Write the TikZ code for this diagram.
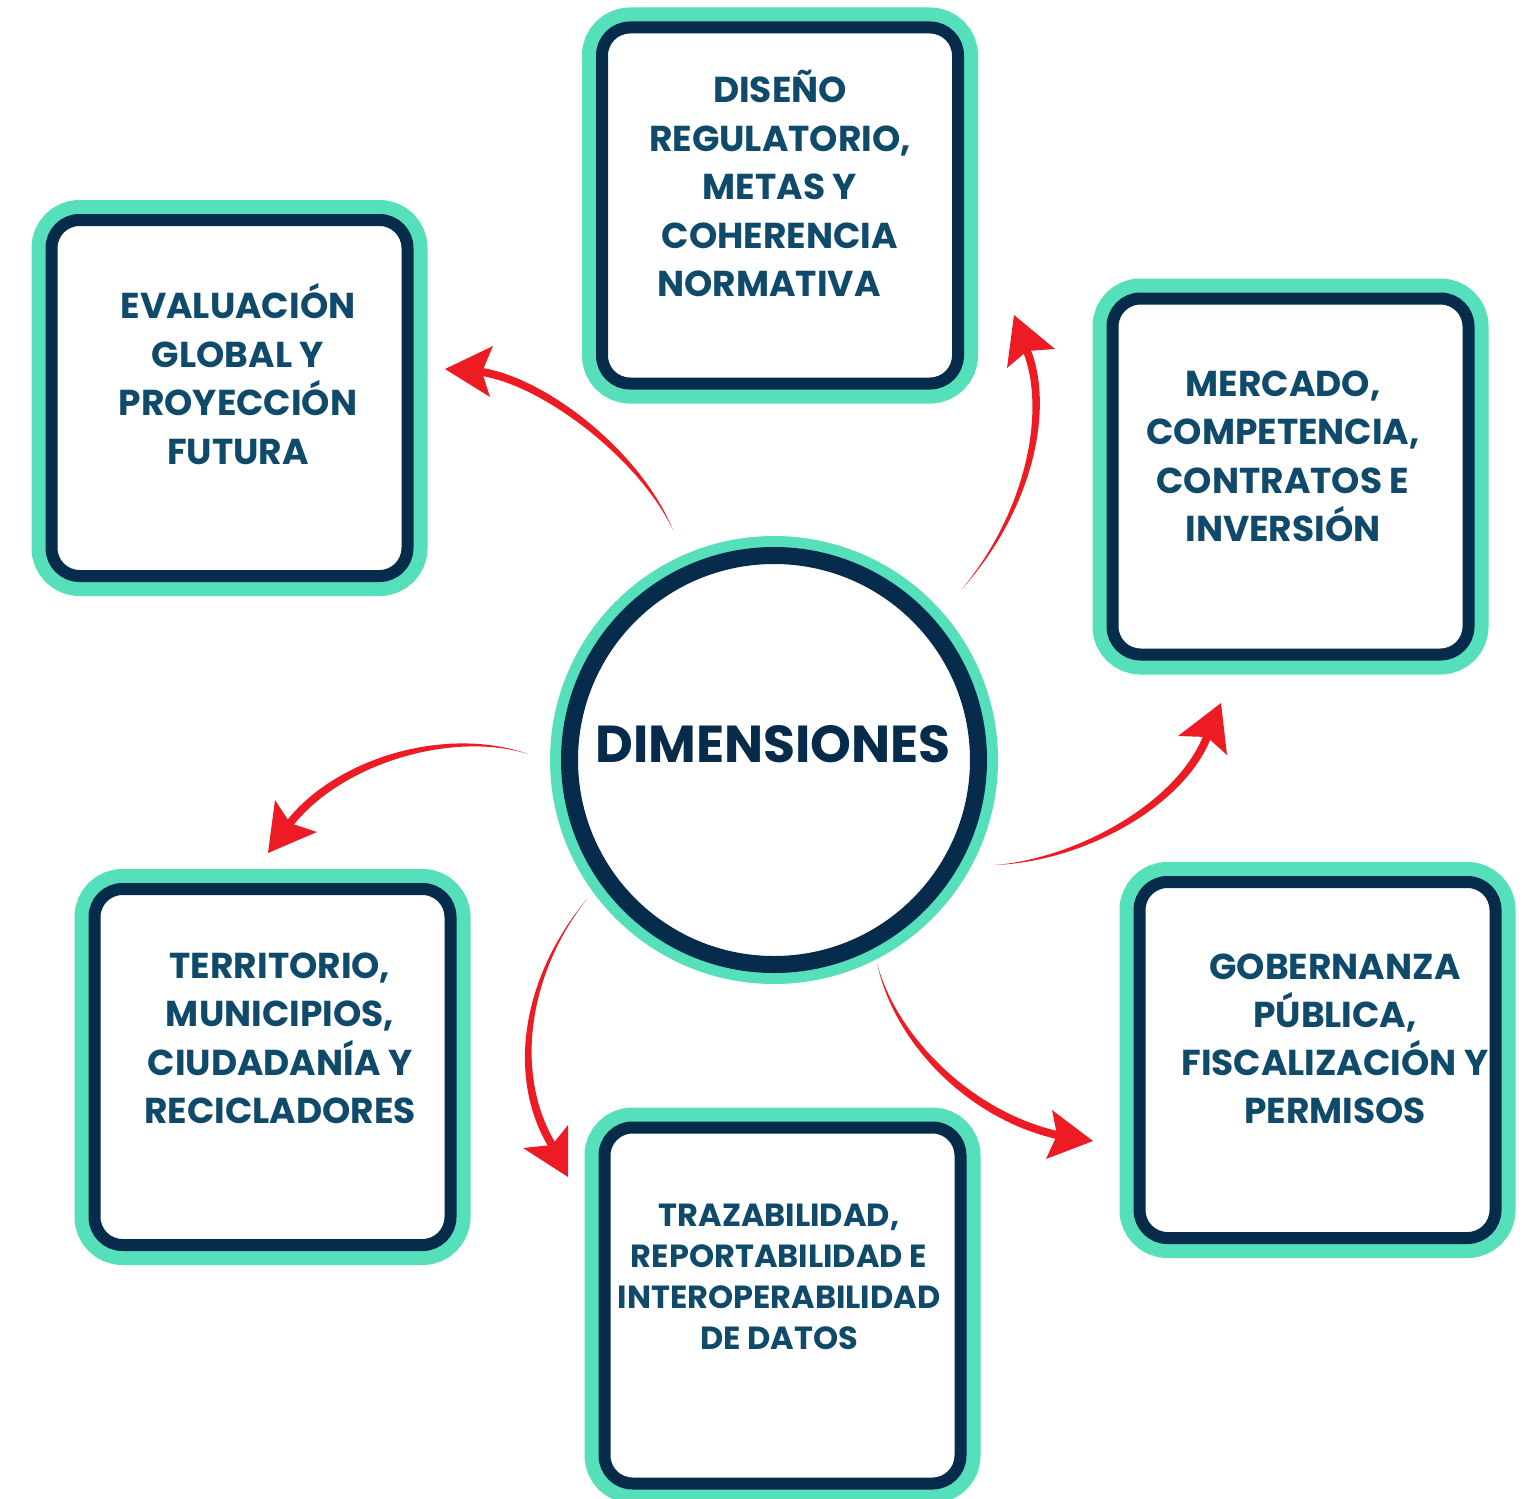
\documentclass[tikz,border=0pt]{standalone}
\usepackage{fontspec}
\setmainfont{Poppins}
\usetikzlibrary{calc}
\definecolor{tealc}{HTML}{55DFBB}
\definecolor{navyc}{HTML}{062B4B}
\definecolor{txtc}{HTML}{0F4A6B}
\definecolor{redc}{HTML}{ED1C24}
\tikzset{
  dimbox/.style={rectangle, minimum width=356pt, minimum height=356pt, inner sep=0pt,
    rounded corners=28pt, fill=white, draw=navyc, line width=12pt,
    preaction={draw=tealc, line width=40pt, rounded corners=28pt}},
  hub/.style={circle, minimum size=409pt, inner sep=0pt, fill=white, draw=navyc, line width=17pt,
    preaction={draw=tealc, line width=39pt}},
  boxtxt/.style={text=txtc, font=\fontsize{36}{42}\selectfont\bfseries, inner sep=0pt},
  smalltxt/.style={text=txtc, font=\fontsize{32}{36}\selectfont\bfseries, inner sep=0pt},
  hubtxt/.style={text=navyc, font=\fontsize{52}{60}\selectfont\bfseries, inner sep=0pt},
  arrowfill/.style={fill=redc, draw=none}
}
% lines of text: #1 style, #2 name, #3 x, #4 first baseline y, #5 step, #6 list
\newcommand\txtlines[6]{%
  \foreach \t [count=\i from 0] in {#6} {
    \node[#1, anchor=base] (#2-\i) at ({#3}, {#4+\i*#5}) {\t};
  }}
% tapered arrow: #1 name, #2 start, #3 c1, #4 c2, #5 notch, #6 tip, #7 barb1, #8 barb2
\newcommand\taparrow[8]{%
  \coordinate (#1-s) at #2;
  \coordinate (#1-c1) at #3;
  \coordinate (#1-c2) at #4;
  \coordinate (#1-n) at #5;
  \coordinate (#1-t) at #6;
  \coordinate (#1-b1) at #7;
  \coordinate (#1-b2) at #8;
  \coordinate (#1-na) at ($(#1-n)!4pt!90:(#1-c2)$);
  \coordinate (#1-nb) at ($(#1-n)!4pt!-90:(#1-c2)$);
  \coordinate (#1-va) at ($(#1-na)-(#1-n)$);
  \coordinate (#1-vb) at ($(#1-nb)-(#1-n)$);
  \coordinate (#1-ca) at ($(#1-c2)+(#1-va)$);
  \coordinate (#1-cb) at ($(#1-c2)+(#1-vb)$);
  \coordinate (#1-da) at ($(#1-c1)+1.1*(#1-va)$);
  \coordinate (#1-db) at ($(#1-c1)+1.1*(#1-vb)$);
  \fill[arrowfill] (#1-s) .. controls (#1-da) and (#1-ca) .. (#1-na)
     -- (#1-nb) .. controls (#1-cb) and (#1-db) .. (#1-s) -- cycle;
  \fill[arrowfill] (#1-t) -- (#1-b1) -- (#1-n) -- (#1-b2) -- cycle;
}
\begin{document}
\begin{tikzpicture}[x=1pt,y=-1pt]
\useasboundingbox (0,0) rectangle (1530,1498);
\fill[white] (0,0) rectangle (1530,1498);

% boxes
\node[dimbox] (box1) at (780,205.5) {};
\node[dimbox] (box2) at (229.5,398) {};
\node[dimbox] (box3) at (1290.5,476.5) {};
\node[dimbox] (box4) at (272.5,1067) {};
\node[dimbox] (box5) at (782.5,1305.5) {};
\node[dimbox] (box6) at (1317.5,1060) {};

% hub
\node[hub] (hub) at (774,760) {};
\node[hubtxt, anchor=base] (hubt) at (773,762) {DIMENSIONES};

% texts
\txtlines{boxtxt}{t1}{780}{103}{48.4}{DISEÑO,{REGULATORIO,},METAS Y,COHERENCIA}
\node[boxtxt, anchor=base] (t1-4) at (769,296.6) {NORMATIVA};
\txtlines{boxtxt}{t2}{238}{318.5}{48.5}{EVALUACIÓN,GLOBAL Y,PROYECCIÓN,FUTURA}
\txtlines{boxtxt}{t3}{1283}{396.5}{48.3}{{MERCADO,},{COMPETENCIA,},CONTRATOS E,INVERSIÓN}
\txtlines{boxtxt}{t4}{280}{978.5}{48.3}{{TERRITORIO,},{MUNICIPIOS,},CIUDADANÍA Y,RECICLADORES}
\txtlines{smalltxt}{t5}{779}{1226}{41}{{TRAZABILIDAD,},REPORTABILIDAD E,INTEROPERABILIDAD,DE DATOS}
\txtlines{boxtxt}{t6}{1335}{979.5}{48}{GOBERNANZA,{PÚBLICA,},FISCALIZACIÓN Y,PERMISOS}

% arrows
\taparrow{a1}{(673,530)}{(640,455)}{(545,382)}{(482,372)}{(445,369)}{(493,346)}{(490,397)}
\taparrow{a2}{(962,589)}{(1030,510)}{(1050,410)}{(1027,351)}{(1014,315)}{(1007,368)}{(1055,349)}
\taparrow{a3}{(995,865)}{(1080,860)}{(1180,805)}{(1207,737)}{(1221,703)}{(1178,736)}{(1227,755)}
\taparrow{a4}{(877,963)}{(895,1040)}{(970,1115)}{(1057,1135)}{(1093,1141)}{(1052,1110)}{(1046,1159)}
\taparrow{a5}{(587,899)}{(525,975)}{(510,1075)}{(552,1145)}{(568,1177)}{(523,1148)}{(568,1125)}
\taparrow{a6}{(528,754)}{(450,728)}{(340,760)}{(290,823)}{(268,853)}{(275,800)}{(317,832)}
\end{tikzpicture}
\end{document}
